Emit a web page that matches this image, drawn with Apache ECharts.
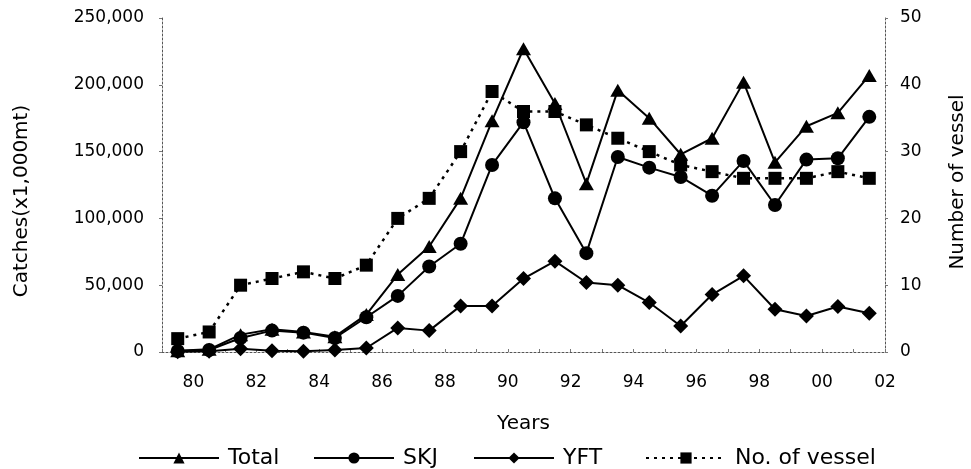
<!DOCTYPE html>
<html>
<head>
<meta charset="utf-8">
<script src="https://cdn.jsdelivr.net/npm/echarts@6/dist/echarts.min.js"></script>
<style>
html,body{margin:0;padding:0;background:#fff;}
#chart{width:971px;height:469px;}
</style>
</head>
<body>
<div id="chart"></div>
<script>
// Years (categories)
var years = [1980,1981,1982,1983,1984,1985,1986,1987,1988,1989,1990,1991,1992,1993,1994,1995,1996,1997,1998,1999,2000,2001,2002];
// Catches (x1,000 mt)
var totalCatch = [1000,2000,13000,17000,15000,11500,28000,58000,79000,115000,173000,227000,186000,126000,196000,175000,148000,160000,202000,142000,169000,179000,207000];
var skjCatch   = [800,1500,10500,16000,14500,10500,26000,42000,64000,81000,140000,172000,115000,74000,146000,138000,131000,117000,143000,110000,144000,145000,176000];
var yftCatch   = [200,500,2500,1000,500,1500,3000,18000,16000,34500,34500,55000,68000,52000,50000,37000,19500,43000,57000,32000,27000,34000,29000];
// Number of vessels
var vesselCount = [2,3,10,11,12,11,13,20,23,30,39,36,36,34,32,30,28,27,26,26,26,27,26];
// Axis ranges / labels
var leftMax = 250000, leftStep = 50000;
var rightMax = 50, rightStep = 10;
var yearLabel = function (y) { return String(y).slice(2); };
var fmt = function (v) { return String(v).replace(/\B(?=(\d{3})+(?!\d))/g, ','); };

var FONT = 'DejaVu Sans';
var chart = echarts.init(document.getElementById('chart'), null, {renderer: 'canvas'});
var axisLineStyle = {color: '#555', width: 1, type: [2, 2]};

function legendAt(name, left) {
  return {
    data: [name], left: left, top: 442, orient: 'horizontal',
    itemWidth: 80, itemHeight: 14, itemGap: 0,
    selectedMode: false,
    textStyle: {fontFamily: FONT, fontSize: 22, color: '#000', padding: [0, 0, 0, 4]}
  };
}

var option = {
  animation: false,
  backgroundColor: '#fff',
  grid: {left: 162, right: 86, top: 18, bottom: 117, containLabel: false},
  legend: [legendAt('Total', 133), legendAt('SKJ', 308), legendAt('YFT', 468), legendAt('No. of vessel', 640)],
  xAxis: {
    type: 'category', data: years, boundaryGap: true,
    name: 'Years', nameLocation: 'middle', nameGap: 62,
    nameTextStyle: {fontFamily: FONT, fontSize: 20, color: '#000'},
    axisLine: {show: true, lineStyle: axisLineStyle},
    axisTick: {show: true, inside: true, length: 3, interval: 0, lineStyle: {color: '#777'}},
    axisLabel: {
      interval: 1, margin: 22, fontFamily: FONT, fontSize: 17, color: '#000',
      padding: [0, 0, 0, 31.4], align: 'center',
      formatter: function (v) { return yearLabel(v); }
    },
    splitLine: {show: false}
  },
  yAxis: [
    {
      type: 'value', min: 0, max: leftMax, interval: leftStep, position: 'left',
      axisLine: {show: true, lineStyle: axisLineStyle},
      axisTick: {show: true, length: 3, lineStyle: {color: '#777'}},
      axisLabel: {margin: 18, fontFamily: FONT, fontSize: 17, color: '#000', formatter: fmt},
      splitLine: {show: false}
    },
    {
      type: 'value', min: 0, max: rightMax, interval: rightStep, position: 'right',
      axisLine: {show: true, lineStyle: axisLineStyle},
      axisTick: {show: true, length: 3, lineStyle: {color: '#777'}},
      axisLabel: {margin: 15, fontFamily: FONT, fontSize: 17, color: '#000'},
      splitLine: {show: false}
    }
  ],
  graphic: [
    {type: 'text', x: 22, y: 201, rotation: Math.PI / 2,
     style: {text: 'Catches(x1,000mt)', fontFamily: FONT, fontSize: 20, fill: '#000', textAlign: 'center', textVerticalAlign: 'middle'}},
    {type: 'text', x: 958, y: 182, rotation: Math.PI / 2,
     style: {text: 'Number of vessel', fontFamily: FONT, fontSize: 20, fill: '#000', textAlign: 'center', textVerticalAlign: 'middle'}}
  ],
  series: [
    {name: 'Total', type: 'line', data: totalCatch, yAxisIndex: 0,
     symbol: 'triangle', symbolSize: [15, 13], showAllSymbol: true,
     lineStyle: {color: '#000', width: 2}, itemStyle: {color: '#000'}},
    {name: 'SKJ', type: 'line', data: skjCatch, yAxisIndex: 0,
     symbol: 'circle', symbolSize: 14, showAllSymbol: true,
     lineStyle: {color: '#000', width: 2}, itemStyle: {color: '#000'}},
    {name: 'YFT', type: 'line', data: yftCatch, yAxisIndex: 0,
     symbol: 'diamond', symbolSize: [15, 15], showAllSymbol: true,
     lineStyle: {color: '#000', width: 2}, itemStyle: {color: '#000'}},
    {name: 'No. of vessel', type: 'line', data: vesselCount, yAxisIndex: 1,
     symbol: 'rect', symbolSize: 13, showAllSymbol: true,
     lineStyle: {color: '#000', width: 2.5, type: [3, 5]}, itemStyle: {color: '#000'}}
  ]
};
chart.setOption(option);
</script>
</body>
</html>
